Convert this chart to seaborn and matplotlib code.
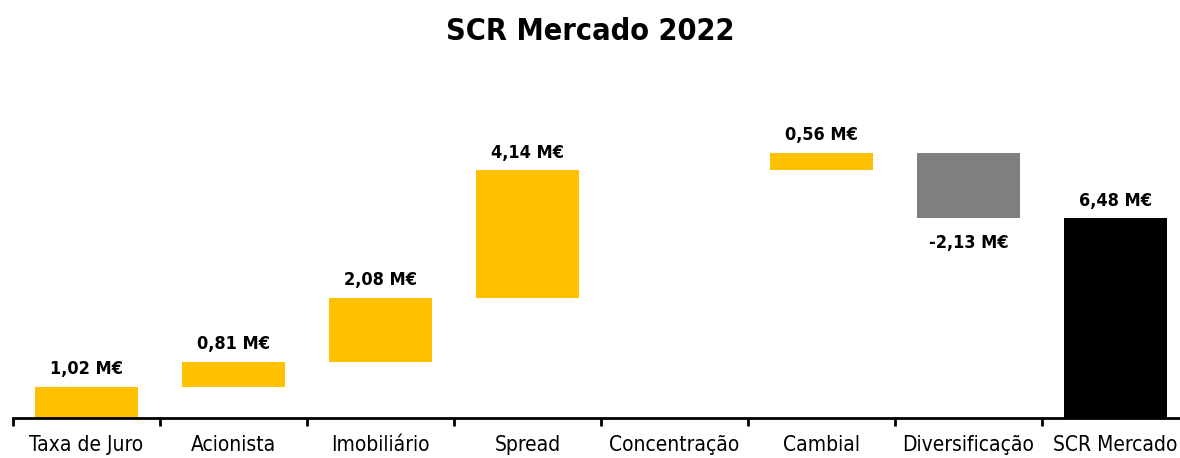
import matplotlib
matplotlib.use("Agg")
import matplotlib.pyplot as plt
import seaborn as sns
import pandas as pd
import numpy as np

categories = ["Taxa de Juro", "Acionista", "Imobiliário", "Spread", "Concentração",
              "Cambial", "Diversificação", "SCR Mercado"]
values = [1.02, 0.81, 2.08, 4.14, 0.0, 0.56, -2.13, 6.48]
labels = ["1,02 M€", "0,81 M€", "2,08 M€", "4,14 M€", "", "0,56 M€", "-2,13 M€", "6,48 M€"]
title = "SCR Mercado 2022"

# waterfall geometry derived from the values
bottoms, heights = [], []
cum = 0.0
for i, v in enumerate(values):
    if i == len(values) - 1:
        bottoms.append(0.0)
        heights.append(v)
    else:
        if v >= 0:
            bottoms.append(cum)
            heights.append(v)
        else:
            bottoms.append(cum + v)
            heights.append(-v)
        cum += v

bar_colors = []
for i in range(len(categories)):
    if i == len(categories) - 1:
        bar_colors.append("#000000")
    elif values[i] < 0:
        bar_colors.append("#7F7F7F")
    else:
        bar_colors.append("#FFC000")

df = pd.DataFrame({"cat": categories, "h": heights, "b": bottoms})

sns.set_theme(style="white")
fam = ["DejaVu Sans", "Liberation Sans"]
plt.rcParams["font.family"] = fam
plt.rcParams["font.stretch"] = "condensed"
plt.rcParams["text.color"] = "black"

fig = plt.figure(figsize=(11.8, 4.58), dpi=100)
ax = fig.add_axes([13 / 1180, 40 / 458, 1176 / 1180, 308 / 458])

sns.barplot(data=df, x="cat", y="h", color="#FFC000", order=categories,
            bottom=df["b"].values, width=0.7, ax=ax, linewidth=0, saturation=1,
            errorbar=None)
for p, c in zip(ax.patches, bar_colors):
    p.set_facecolor(c)
    p.set_edgecolor(c)

ax.set_ylim(0, 10)
ax.set_xlim(-0.5, 7.5)

for i, (v, lab) in enumerate(zip(values, labels)):
    if not lab:
        continue
    top = bottoms[i] + heights[i]
    if v >= 0:
        ax.annotate(lab, (i, top), xytext=(0, 6), textcoords="offset points",
                    ha="center", va="bottom", fontsize=13, fontweight="bold",
                    color="black", fontstretch="condensed")
    else:
        ax.annotate(lab, (i, bottoms[i]), xytext=(0, -11), textcoords="offset points",
                    ha="center", va="top", fontsize=13, fontweight="bold",
                    color="black", fontstretch="condensed")

for s in ["top", "right", "left"]:
    ax.spines[s].set_visible(False)
ax.spines["bottom"].set_color("black")
ax.spines["bottom"].set_linewidth(2)
ax.set_yticks([])
ax.set_xticks(np.arange(-0.5, 8.0, 1.0))
ax.set_xticklabels([])
ax.tick_params(axis="x", which="major", length=6, width=2, color="black", direction="out", bottom=True)
ax.set_xticks(np.arange(len(categories)), minor=True)
ax.set_xticklabels(categories, minor=True, fontsize=15, color="black", fontstretch="condensed")
ax.tick_params(axis="x", which="minor", length=0, pad=12, bottom=True)
ax.set_xlabel("")
ax.set_ylabel("")

fig.text(0.5, 1 - 32 / 458, title, ha="center", va="center", fontsize=22,
         fontweight="bold", color="black", fontstretch="condensed")

fig.savefig("out.png", dpi=100, facecolor="white")
